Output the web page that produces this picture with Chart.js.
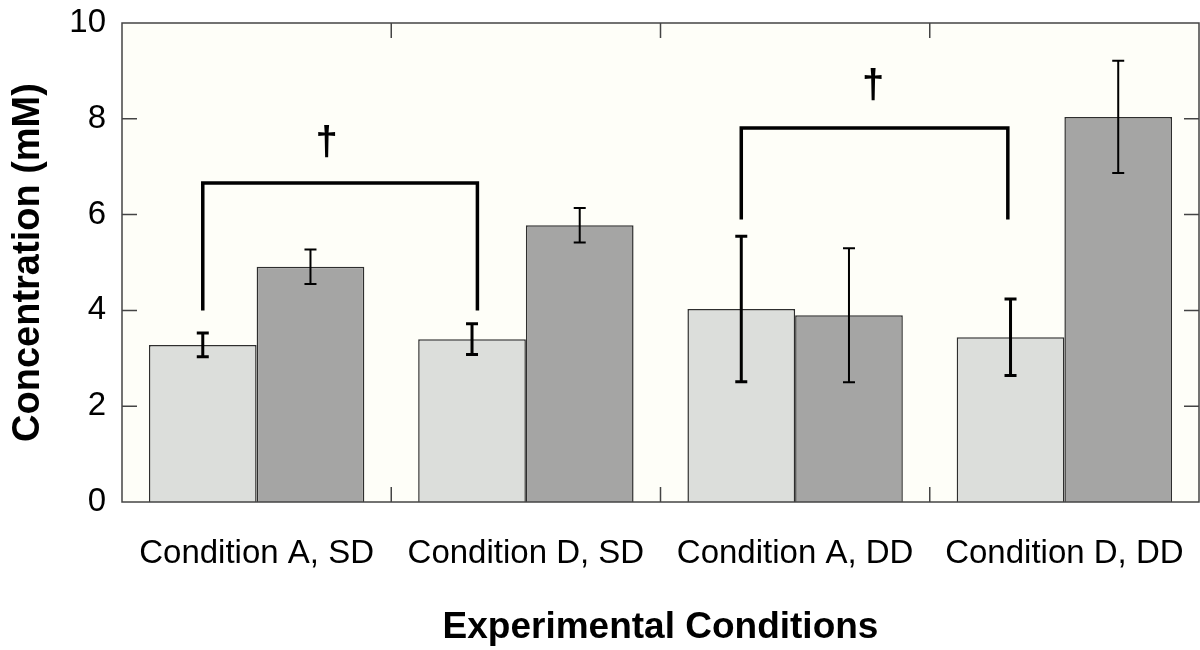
<!DOCTYPE html>
<html>
<head>
<meta charset="utf-8">
<script src="https://cdn.jsdelivr.net/npm/chart.js@4.4.1/dist/chart.umd.min.js"></script>
<style>
  html, body { margin: 0; padding: 0; background: #ffffff; }
  #wrap { width: 1200px; height: 650px; }
</style>
</head>
<body>
<div id="wrap"><canvas id="chart" width="1200" height="650"></canvas></div>
<script>
const categories = ["Condition A, SD", "Condition D, SD", "Condition A, DD", "Condition D, DD"];
const lightValues = [3.28, 3.40, 4.03, 3.44];
const lightErrors = [0.25, 0.32, 1.52, 0.80];
const darkValues = [4.91, 5.78, 3.90, 8.04];
const darkErrors = [0.36, 0.36, 1.40, 1.17];
const yTicks = [0, 2, 4, 6, 8, 10];

// significance brackets, x in category units
const bracketLeft = [-0.2, 1.8];
const bracketRight = [0.82, 2.79];
const bracketLow = [4.0, 5.9];
const bracketHigh = [6.66, 7.81];
const daggerX = [0.26, 2.29];
const daggerY = [7.48, 8.67];

const FONT = "'Liberation Sans', Arial, Helvetica, sans-serif";

const decorPlugin = {
  id: "decor",
  beforeDraw(chart) {
    const { ctx, chartArea: a } = chart;
    ctx.save();
    ctx.fillStyle = "#fefef8";
    ctx.fillRect(a.left, a.top, a.right - a.left, a.bottom - a.top);
    ctx.restore();
  },
  afterDatasetsDraw(chart) {
    const { ctx, chartArea: a } = chart;
    const xs = chart.scales.x;
    const ys = chart.scales.y;
    ctx.save();

    // error bars
    const errs = [lightErrors, darkErrors];
    const widths = [3, 2];
    chart.data.datasets.forEach((ds, d) => {
      const meta = chart.getDatasetMeta(d);
      ctx.strokeStyle = "#000";
      ctx.lineWidth = widths[d];
      meta.data.forEach((bar, i) => {
        const v = ds.data[i];
        const hi = ys.getPixelForValue(v + errs[d][i]);
        const lo = ys.getPixelForValue(v - errs[d][i]);
        ctx.beginPath();
        ctx.moveTo(bar.x, hi); ctx.lineTo(bar.x, lo);
        ctx.moveTo(bar.x - 6, hi); ctx.lineTo(bar.x + 6, hi);
        ctx.moveTo(bar.x - 6, lo); ctx.lineTo(bar.x + 6, lo);
        ctx.stroke();
      });
    });

    // brackets
    ctx.lineWidth = 3.5;
    ctx.lineJoin = "miter";
    ctx.lineCap = "butt";
    bracketLeft.forEach((l, i) => {
      const x1 = xs.getPixelForValue(l);
      const x2 = xs.getPixelForValue(bracketRight[i]);
      const yl = ys.getPixelForValue(bracketLow[i]);
      const yh = ys.getPixelForValue(bracketHigh[i]);
      ctx.beginPath();
      ctx.moveTo(x1, yl); ctx.lineTo(x1, yh); ctx.lineTo(x2, yh); ctx.lineTo(x2, yl);
      ctx.stroke();
      ctx.fillStyle = "#000";
      ctx.font = "bold 40px " + FONT;
      ctx.textAlign = "center";
      ctx.textBaseline = "middle";
      ctx.fillText("†", xs.getPixelForValue(daggerX[i]), ys.getPixelForValue(daggerY[i]));
    });

    // frame
    ctx.strokeStyle = "#444";
    ctx.lineWidth = 1.5;
    ctx.strokeRect(a.left, a.top, a.right - a.left, a.bottom - a.top);

    // inward ticks
    ctx.beginPath();
    yTicks.slice(1, -1).forEach(t => {
      const y = ys.getPixelForValue(t);
      ctx.moveTo(a.left, y); ctx.lineTo(a.left + 15, y);
      ctx.moveTo(a.right, y); ctx.lineTo(a.right - 15, y);
    });
    for (let k = 1; k < categories.length; k++) {
      const x = xs.getPixelForValue(k - 0.5);
      ctx.moveTo(x, a.bottom); ctx.lineTo(x, a.bottom - 15);
      ctx.moveTo(x, a.top); ctx.lineTo(x, a.top + 15);
    }
    ctx.stroke();
    ctx.restore();
  }
};

new Chart(document.getElementById("chart"), {
  type: "bar",
  data: {
    labels: categories,
    datasets: [
      {
        label: "light",
        data: lightValues,
        backgroundColor: "#dcdedb",
        borderColor: "#2e2e2e",
        borderWidth: 1.5,
        categoryPercentage: 0.8,
        barPercentage: 1.0,
      },
      {
        label: "dark",
        data: darkValues,
        backgroundColor: "#a5a5a4",
        borderColor: "#2e2e2e",
        borderWidth: 1.5,
        categoryPercentage: 0.8,
        barPercentage: 1.0,
      },
    ],
  },
  options: {
    responsive: false,
    animation: false,
    layout: { padding: { top: 23, right: 1, left: 0, bottom: 0 } },
    plugins: { legend: { display: false }, tooltip: { enabled: false } },
    scales: {
      x: {
        grid: { display: false, drawTicks: false },
        border: { display: false },
        ticks: { color: "#000", font: { family: FONT, size: 33 }, padding: 32, maxRotation: 0 },
        title: {
          display: true,
          text: "Experimental Conditions",
          color: "#000",
          font: { family: FONT, size: 37, weight: "bold" },
          padding: { top: 0, bottom: 0 },
        },
        afterFit(scale) {
          scale.height = 148;
          scale.paddingLeft = 0;
          scale.paddingRight = 0;
        },
      },
      y: {
        min: 0,
        max: 10,
        grid: { display: false, drawTicks: false },
        border: { display: false },
        ticks: {
          color: "#000",
          font: { family: FONT, size: 33 },
          padding: 16,
          stepSize: 2,
          callback: v => (yTicks.includes(v) ? v : ""),
        },
        title: {
          display: true,
          text: "Concentration (mM)",
          color: "#000",
          font: { family: FONT, size: 38, weight: "bold" },
          padding: { top: 6, bottom: 0 },
        },
        afterFit(scale) {
          scale.width = 122;
          scale.paddingTop = 0;
          scale.paddingBottom = 0;
        },
      },
    },
  },
  plugins: [decorPlugin],
});
</script>
</body>
</html>
